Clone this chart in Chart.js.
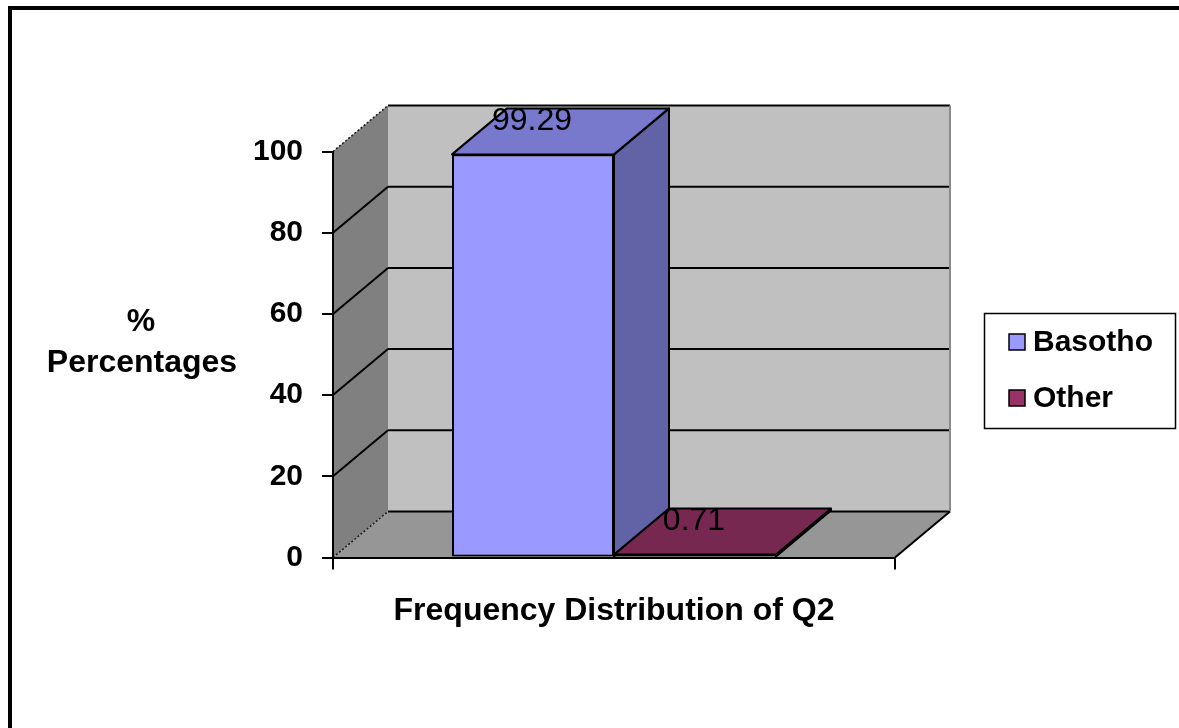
<!DOCTYPE html>
<html>
<head>
<meta charset="utf-8">
<script src="https://cdn.jsdelivr.net/npm/chart.js@4.4.1/dist/chart.umd.min.js"></script>
<style>
  html, body { margin: 0; padding: 0; background: #fff; }
  canvas { display: block; }
</style>
</head>
<body>
<canvas id="chart" width="1179" height="728"></canvas>
<script>
// ---- data ----
const categories = ['Frequency Distribution of Q2'];
const seriesNames = ['Basotho', 'Other'];
const basothoValues = [99.29];
const otherValues = [0.71];
const yTickValues = [0, 20, 40, 60, 80, 100];
const yAxisTitle = ['%', 'Percentages'];

// ---- style ----
const FONT = "'Liberation Sans', Arial, Helvetica, sans-serif";
const DEPTH_X = 55;     // horizontal shift of the back plane
const DEPTH_Y = -46;    // vertical shift of the back plane
const faceColors = [
  { front: '#9999ff', top: '#7878cc', side: '#6262a6' },
  { front: '#993366', top: '#772850', side: '#6b2448' }
];
const WALL_SIDE = '#808080';
const WALL_BACK = '#c0c0c0';
const FLOOR = '#969696';

function poly(ctx, pts, fill, stroke, lw, dash) {
  ctx.save();
  ctx.beginPath();
  ctx.moveTo(pts[0][0], pts[0][1]);
  for (let i = 1; i < pts.length; i++) ctx.lineTo(pts[i][0], pts[i][1]);
  ctx.closePath();
  if (fill) { ctx.fillStyle = fill; ctx.fill(); }
  if (stroke) {
    ctx.strokeStyle = stroke;
    ctx.lineWidth = lw || 1;
    ctx.lineJoin = 'round';
    if (dash) ctx.setLineDash(dash);
    ctx.stroke();
  }
  ctx.restore();
}

function line(ctx, x1, y1, x2, y2, color, lw, dash) {
  ctx.save();
  ctx.beginPath();
  ctx.moveTo(x1, y1);
  ctx.lineTo(x2, y2);
  ctx.strokeStyle = color;
  ctx.lineWidth = lw;
  if (dash) ctx.setLineDash(dash);
  ctx.stroke();
  ctx.restore();
}

// Frame, walls and floor of the 3-D box (painted before the axes)
const boxPlugin = {
  id: 'box3d',
  beforeDraw(chart) {
    const ctx = chart.ctx;
    const { left, right } = chart.chartArea;
    const ys = chart.scales.y;
    const y0 = ys.getPixelForValue(yTickValues[0]);
    const yTop = ys.getPixelForValue(yTickValues[yTickValues.length - 1]);
    const dx = DEPTH_X, dy = DEPTH_Y;

    ctx.save();
    ctx.fillStyle = '#ffffff';
    ctx.fillRect(0, 0, chart.width, chart.height);
    // outer frame
    ctx.fillStyle = '#000000';
    ctx.fillRect(8, 6, chart.width - 8, 4);
    ctx.fillRect(8, 6, 4, chart.height - 6);
    ctx.restore();

    // side wall
    poly(ctx, [[left, yTop], [left + dx, yTop + dy], [left + dx, y0 + dy], [left, y0]], WALL_SIDE);
    // back wall
    poly(ctx, [[left + dx, yTop + dy], [right + dx, yTop + dy], [right + dx, y0 + dy], [left + dx, y0 + dy]], WALL_BACK);
    // floor
    poly(ctx, [[left, y0], [right, y0], [right + dx, y0 + dy], [left + dx, y0 + dy]], FLOOR);

    // gridlines on back wall and side wall
    yTickValues.forEach((v, i) => {
      const py = ys.getPixelForValue(v);
      line(ctx, left + dx, py + dy, right + dx, py + dy, '#000000', 2);
      const edge = (i === 0 || i === yTickValues.length - 1);
      line(ctx, left, py, left + dx, py + dy, edge ? '#1a1a1a' : '#000000', edge ? 1.5 : 2, edge ? [2, 2] : null);
    });
    // right edge of the back wall and floor
    line(ctx, right + dx, yTop + dy, right + dx, y0 + dy, '#8a8a8a', 2);
    line(ctx, right, y0, right + dx, y0 + dy, '#000000', 2);
  },

  // top and side faces of each column
  afterDatasetsDraw(chart) {
    const ctx = chart.ctx;
    const dx = DEPTH_X, dy = DEPTH_Y;
    chart.data.datasets.forEach((ds, di) => {
      const meta = chart.getDatasetMeta(di);
      meta.data.forEach((bar) => {
        const p = bar.getProps(['x', 'y', 'base', 'width'], true);
        const x1 = p.x - p.width / 2, x2 = p.x + p.width / 2;
        const c = faceColors[di];
        poly(ctx, [[x2, p.y], [x2 + dx, p.y + dy], [x2 + dx, p.base + dy], [x2, p.base]], c.side, '#000000', 2);
        poly(ctx, [[x1, p.y], [x2, p.y], [x2 + dx, p.y + dy], [x1 + dx, p.y + dy]], c.top, '#000000', 2);
      });
    });
  },

  // value labels, vertical axis title and legend
  afterDraw(chart) {
    const ctx = chart.ctx;
    ctx.save();
    ctx.fillStyle = '#000000';
    ctx.textAlign = 'center';
    ctx.textBaseline = 'middle';
    ctx.font = '32px ' + FONT;
    chart.data.datasets.forEach((ds, di) => {
      const meta = chart.getDatasetMeta(di);
      meta.data.forEach((bar, i) => {
        const p = bar.getProps(['x', 'y'], true);
        ctx.fillText(String(ds.data[i]), p.x - 1, p.y - 33);
      });
    });

    // axis title
    ctx.font = 'bold 32px ' + FONT;
    ctx.fillText(yAxisTitle[0], 141, 322);
    ctx.fillText(yAxisTitle[1], 142, 363);

    // legend
    ctx.lineWidth = 1.5;
    ctx.strokeStyle = '#000000';
    ctx.strokeRect(984.5, 313.5, 191, 115);
    ctx.textAlign = 'left';
    ctx.font = 'bold 30px ' + FONT;
    const rows = [342, 398];
    chart.data.datasets.forEach((ds, di) => {
      const cy = rows[di];
      ctx.fillStyle = faceColors[di].front;
      ctx.fillRect(1009, cy - 8, 16, 16);
      ctx.strokeRect(1009, cy - 8, 16, 16);
      ctx.fillStyle = '#000000';
      ctx.fillText(ds.label, 1033, cy + 1);
    });
    ctx.restore();
  }
};

new Chart(document.getElementById('chart'), {
  type: 'bar',
  data: {
    labels: categories,
    datasets: [
      { label: seriesNames[0], data: basothoValues, backgroundColor: faceColors[0].front },
      { label: seriesNames[1], data: otherValues, backgroundColor: faceColors[1].front }
    ]
  },
  options: {
    responsive: false,
    animation: false,
    devicePixelRatio: 1,
    layout: { padding: { top: 151.5, right: 284, bottom: 0, left: 0 } },
    datasets: {
      bar: {
        categoryPercentage: 0.5765,
        barPercentage: 1,
        borderColor: '#000000',
        borderWidth: 2,
        borderSkipped: false
      }
    },
    plugins: {
      legend: { display: false },
      tooltip: { enabled: false }
    },
    scales: {
      x: {
        offset: true,
        grid: { display: true, drawOnChartArea: false, drawTicks: true, tickLength: 12, color: '#000000', lineWidth: 2, offset: true },
        border: { display: true, color: '#000000', width: 2 },
        ticks: { color: '#000000', padding: 22, font: { family: FONT, size: 32, weight: 'bold' } },
        afterFit(scale) { scale.height = 170.5; }
      },
      y: {
        min: 0,
        max: 100,
        afterBuildTicks(scale) { scale.ticks = yTickValues.map(v => ({ value: v })); },
        grid: { display: true, drawOnChartArea: false, drawTicks: true, tickLength: 11, color: '#000000', lineWidth: 2 },
        border: { display: true, color: '#000000', width: 2 },
        ticks: { color: '#000000', padding: 19, font: { family: FONT, size: 30, weight: 'bold' } },
        afterFit(scale) { scale.width = 333; }
      }
    }
  },
  plugins: [boxPlugin]
});
</script>
</body>
</html>
